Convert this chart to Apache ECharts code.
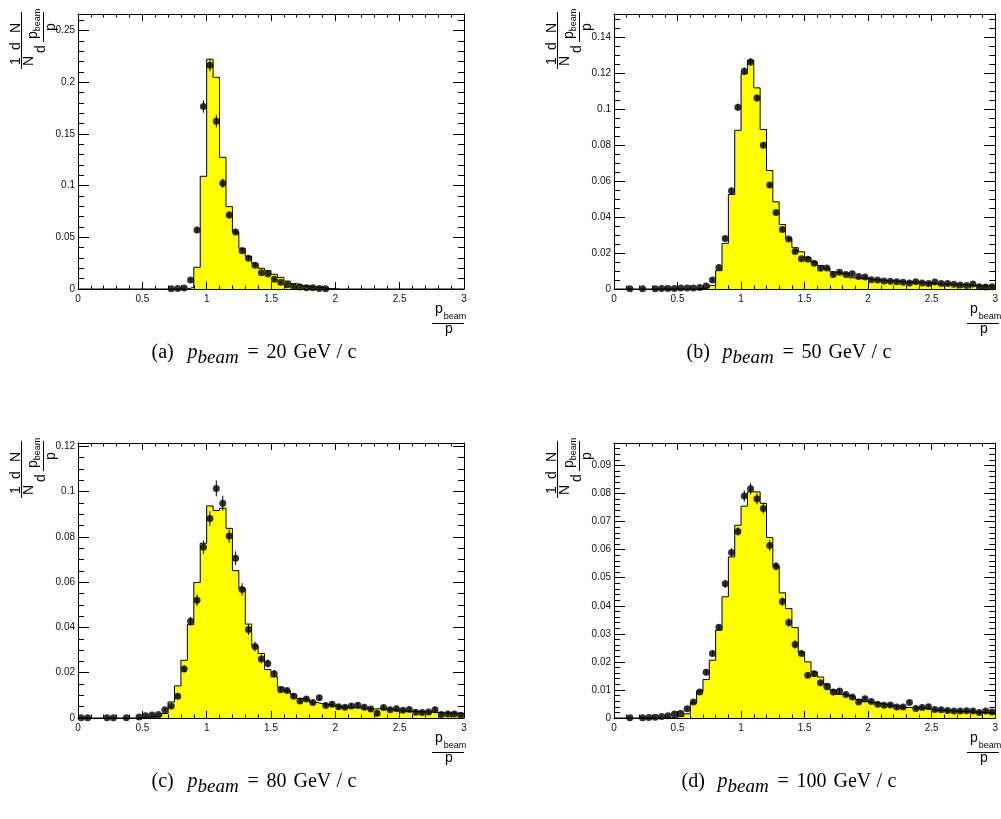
<!DOCTYPE html>
<html><head><meta charset="utf-8">
<script src="https://cdn.jsdelivr.net/npm/echarts@6/dist/echarts.min.js"></script>
<style>html,body{margin:0;padding:0;background:#fff}#c{width:1001px;height:819px}</style>
</head><body><div id="c"></div>
<script>
// ---- data ----
const binEdges = [0,0.05,0.1,0.15,0.2,0.25,0.3,0.35,0.4,0.45,0.5,0.55,0.6,0.65,0.7,0.75,0.8,0.85,0.9,0.95,
1,1.05,1.1,1.15,1.2,1.25,1.3,1.35,1.4,1.45,1.5,1.55,1.6,1.65,1.7,1.75,1.8,1.85,1.9,1.95,
2,2.05,2.1,2.15,2.2,2.25,2.3,2.35,2.4,2.45,2.5,2.55,2.6,2.65,2.7,2.75,2.8,2.85,2.9,2.95,3];
const binCenters = [0.025,0.075,0.125,0.175,0.225,0.275,0.325,0.375,0.425,0.475,0.525,0.575,0.625,0.675,0.725,0.775,0.825,0.875,0.925,0.975,
1.025,1.075,1.125,1.175,1.225,1.275,1.325,1.375,1.425,1.475,1.525,1.575,1.625,1.675,1.725,1.775,1.825,1.875,1.925,1.975,
2.025,2.075,2.125,2.175,2.225,2.275,2.325,2.375,2.425,2.475,2.525,2.575,2.625,2.675,2.725,2.775,2.825,2.875,2.925,2.975];

// (a) 20 GeV/c
const histA = [0,0,0,0,0,0,0,0,0,0,0,0,0,0,0,0,0,0.0016,0.021,0.109,
0.2223,0.2048,0.1274,0.0797,0.0548,0.0394,0.0315,0.0248,0.020,0.0177,0.0142,0.0113,0.0077,0.0052,0.0035,0.0026,0.002,0.0013,0.0006,0.0003,
0,0,0,0,0,0,0,0,0,0,0,0,0,0,0,0,0,0,0,0];
const pointsA = [null,null,null,null,null,null,null,null,null,null,null,null,null,null,0.0002,0.0004,0.001,0.0087,0.057,0.1765,
0.2165,0.1623,0.1023,0.0716,0.0552,0.0371,0.0297,0.0229,0.0158,0.0145,0.0094,0.0065,0.0042,0.0025,0.002,0.0012,0.0013,0.0006,0.0003,null,
null,null,null,null,null,null,null,null,null,null,null,null,null,null,null,null,null,null,null,null];
const errA = [null,null,null,null,null,null,null,null,null,null,null,null,null,null,0.0003,0.0003,0.0005,0.0015,0.003,0.006,
0.006,0.006,0.0045,0.0035,0.003,0.002,0.002,0.0015,0.0012,0.0012,0.001,0.0008,0.0006,0.0005,0.0005,0.0004,0.0004,0.0003,0.0003,null,
null,null,null,null,null,null,null,null,null,null,null,null,null,null,null,null,null,null,null,null];

// (b) 50 GeV/c
const histB = [0,0,0,0,0,0,0,0,0,0,0,0,0,0.0003,0.0008,0.002,0.0102,0.0254,0.0526,0.0883,
0.1198,0.1272,0.1119,0.0887,0.0659,0.0485,0.0359,0.0281,0.023,0.0207,0.0175,0.015,0.013,0.0115,0.0095,0.0087,0.0087,0.0062,0.006,0.006,
0.0052,0.005,0.0047,0.0045,0.0043,0.004,0.0038,0.0037,0.0034,0.0033,0.0029,0.0028,0.0027,0.0025,0.0024,0.0022,0.002,0.0019,0.0017,0.0016];
const pointsB = [null,null,0.0001,null,0.0002,null,0.0002,0.0003,0.0003,0.0003,0.0005,0.0005,0.0006,0.0008,0.0017,0.005,0.012,0.0281,0.0546,0.1011,
0.1211,0.1263,0.1063,0.08,0.0578,0.0426,0.0331,0.0278,0.0209,0.0168,0.0165,0.0143,0.0115,0.0117,0.0081,0.0093,0.0081,0.0085,0.0069,0.0067,
0.0052,0.005,0.0044,0.0043,0.0041,0.0037,0.0033,0.0041,0.0033,0.003,0.0039,0.0031,0.003,0.0026,0.0022,0.002,0.0028,0.0013,0.0011,0.0013];
const errB = [null,null,0.0002,null,0.0002,null,0.0002,0.0002,0.0002,0.0002,0.0002,0.0002,0.0002,0.0002,0.0003,0.0005,0.0008,0.0012,0.0016,0.002,
0.0022,0.0022,0.002,0.0018,0.0015,0.0013,0.0012,0.001,0.0009,0.0008,0.0008,0.0008,0.0008,0.0008,0.0008,0.0008,0.0006,0.0006,0.0006,0.0006,
0.0006,0.0006,0.0006,0.0006,0.0006,0.0006,0.0006,0.0006,0.0006,0.0006,0.0006,0.0006,0.0006,0.0006,0.0006,0.0006,0.0006,0.0006,0.0006,0.0006];

// (c) 80 GeV/c
const histC = [0,0,0,0,0,0,0,0,0,0,0.0004,0.0005,0.0008,0.002,0.0071,0.0142,0.0255,0.0413,0.0599,0.0772,
0.0937,0.0917,0.0927,0.0838,0.0651,0.0573,0.0415,0.0319,0.0285,0.0214,0.0182,0.0137,0.012,0.0105,0.0086,0.0081,0.007,0.0063,0.006,0.0055,
0.0048,0.0047,0.0046,0.0044,0.0042,0.004,0.0041,0.0039,0.0038,0.0036,0.003,0.0029,0.0028,0.0027,0.0026,0.0024,0.0023,0.0022,0.0021,0.002];
const pointsC = [0.0001,0.0001,null,null,0.0001,0.0001,null,0.0001,null,0.0004,0.001,0.0013,0.0016,0.0037,0.0053,0.0096,0.0217,0.0427,0.052,0.0754,
0.0881,0.1014,0.0949,0.0804,0.0706,0.0568,0.0391,0.0316,0.0261,0.0241,0.0196,0.0125,0.0121,0.0096,0.0075,0.0084,0.0068,0.0089,0.0055,0.0061,
0.005,0.0047,0.0053,0.0056,0.0047,0.004,0.0021,0.0046,0.0037,0.0041,0.0034,0.0038,0.0025,0.0024,0.0027,0.0037,0.0015,0.0018,0.0018,0.0012];
const errC = [0.0002,0.0002,null,null,0.0002,0.0002,null,0.0002,null,0.0003,0.0004,0.0004,0.0005,0.0006,0.0008,0.001,0.0015,0.002,0.0025,0.003,
0.0032,0.0035,0.0033,0.003,0.003,0.0028,0.0024,0.0022,0.002,0.0018,0.0016,0.0012,0.0012,0.0012,0.0012,0.0012,0.0012,0.0012,0.0012,0.0012,
0.0012,0.001,0.001,0.001,0.001,0.001,0.001,0.001,0.001,0.001,0.001,0.001,0.001,0.001,0.001,0.001,0.001,0.001,0.001,0.001];

// (d) 100 GeV/c
const histD = [0,0,0,0,0,0,0,0,0,0.0004,0.0006,0.0015,0.0054,0.0096,0.0137,0.0206,0.0313,0.0432,0.0574,0.0687,
0.0755,0.0806,0.0806,0.0765,0.0643,0.0541,0.0446,0.039,0.0322,0.0235,0.02,0.0164,0.0146,0.0122,0.0099,0.0084,0.0081,0.0075,0.0066,0.0058,
0.0055,0.0052,0.0048,0.0044,0.004,0.0038,0.0037,0.0036,0.0035,0.0032,0.0028,0.0027,0.0026,0.0025,0.0024,0.0022,0.0021,0.002,0.0018,0.0016];
const pointsD = [null,null,0.0001,null,0.0001,0.0002,0.0003,0.0005,0.0008,0.0014,0.0017,0.0033,0.0057,0.0093,0.0163,0.023,0.0323,0.0478,0.059,0.0665,
0.0791,0.0817,0.0781,0.0747,0.0615,0.0541,0.0415,0.034,0.0262,0.023,0.0152,0.0158,0.0126,0.0111,0.0093,0.0096,0.0084,0.0075,0.0057,0.0069,
0.0059,0.0049,0.0045,0.0046,0.0039,0.0039,0.0055,0.0034,0.0037,0.004,0.003,0.0029,0.0027,0.0025,0.0025,0.0026,0.0025,0.002,0.0025,0.0021];
const errD = [null,null,0.0002,null,0.0002,0.0002,0.0002,0.0002,0.0002,0.0002,0.0002,0.0005,0.0005,0.0005,0.001,0.001,0.001,0.0015,0.0015,0.0015,
0.002,0.002,0.002,0.002,0.002,0.0015,0.0015,0.0015,0.0015,0.001,0.001,0.001,0.001,0.001,0.001,0.001,0.0007,0.0007,0.0007,0.0007,
0.0007,0.0007,0.0007,0.0007,0.0007,0.0007,0.0007,0.0007,0.0007,0.0007,0.0007,0.0007,0.0007,0.0007,0.0007,0.0007,0.0007,0.0007,0.0007,0.0007];

const captionTags = ['(a)','(b)','(c)','(d)'];
const beamEnergies = ['20','50','80','100'];
const yMax = [0.266, 0.153, 0.1215, 0.098];
const yStep = [0.05, 0.02, 0.02, 0.01];
const yMinorSplit = [5, 4, 4, 5];

// ---- layout ----
const panels = [
  {left:78, top:14, width:386, height:275, capX:258, capY:353},
  {left:614, top:14, width:385, height:275, capX:793, capY:353},
  {left:78, top:443, width:386, height:275, capX:258, capY:782},
  {left:614, top:443, width:385, height:275, capX:793, capY:782}
];
const hists = [histA, histB, histC, histD];
const points = [pointsA, pointsB, pointsC, pointsD];
const errs = [errA, errB, errC, errD];

const SANS = '"Liberation Sans", Arial, sans-serif';
const SERIF = '"Liberation Serif", "Times New Roman", serif';

const grid = [], xAxis = [], yAxis = [], series = [], graphic = [];

function txt(t, x, y, font, rot, align) {
  const el = {type:'text', x:x, y:y, silent:true, z:100,
    style:{text:t, font:font, fill:'#000', align:align||'center', verticalAlign:'middle',
      textAlign:align||'center', textVerticalAlign:'middle'}};
  if (rot) el.rotation = rot;
  return el;
}
function ln(x1, y1, x2, y2) {
  return {type:'line', silent:true, z:100, shape:{x1:x1, y1:y1, x2:x2, y2:y2}, style:{stroke:'#000', lineWidth:1}};
}

panels.forEach((p, k) => {
  grid.push({left:p.left, top:p.top, width:p.width, height:p.height});
  const common = {type:'value', gridIndex:k, z:10, splitLine:{show:false}, minorSplitLine:{show:false},
    axisLine:{show:true, onZero:false, lineStyle:{color:'#000', width:1}}};
  xAxis.push(Object.assign({}, common, {position:'bottom', min:0, max:3, interval:0.5,
    axisTick:{show:true, inside:true, length:7, lineStyle:{color:'#000'}},
    minorTick:{show:true, splitNumber:5, length:3.5, lineStyle:{color:'#000'}},
    axisLabel:{show:true, fontSize:10, color:'#111', fontFamily:SANS, margin:5}}));
  xAxis.push(Object.assign({}, common, {position:'top', min:0, max:3, interval:0.5,
    axisTick:{show:true, inside:true, length:7, lineStyle:{color:'#000'}},
    minorTick:{show:true, splitNumber:5, length:3.5, lineStyle:{color:'#000'}},
    axisLabel:{show:false}}));
  yAxis.push(Object.assign({}, common, {position:'left', min:0, max:yMax[k], interval:yStep[k],
    axisTick:{show:true, inside:true, length:11, lineStyle:{color:'#000'}},
    minorTick:{show:true, splitNumber:yMinorSplit[k], length:6, lineStyle:{color:'#000'}},
    axisLabel:{show:true, fontSize:10, color:'#111', fontFamily:SANS, margin:3, showMaxLabel:false}}));
  yAxis.push(Object.assign({}, common, {position:'right', min:0, max:yMax[k], interval:yStep[k],
    axisTick:{show:true, inside:true, length:11, lineStyle:{color:'#000'}},
    minorTick:{show:true, splitNumber:yMinorSplit[k], length:6, lineStyle:{color:'#000'}},
    axisLabel:{show:false}}));

  const h = hists[k];
  const stepData = h.map((v, i) => [binEdges[i], v]);
  stepData.push([binEdges[h.length], h[h.length - 1]]);
  series.push({type:'line', xAxisIndex:2*k, yAxisIndex:2*k, data:stepData, step:'end', symbol:'none',
    lineStyle:{color:'#000', width:1}, areaStyle:{color:'#ffff00', opacity:1}, z:2, silent:true});

  const pts = [], ebs = [];
  points[k].forEach((v, i) => {
    if (v === null) return;
    pts.push([binCenters[i], v]);
    ebs.push([binCenters[i], v, errs[k][i] || 0]);
  });
  series.push({type:'custom', xAxisIndex:2*k, yAxisIndex:2*k, data:ebs, z:3, silent:true,
    encode:{x:0, y:1},
    renderItem:function(params, api){
      const x = api.value(0), y = api.value(1), e = api.value(2);
      const a = api.coord([x, Math.max(0, y - e)]), b = api.coord([x, y + e]);
      return {type:'line', shape:{x1:a[0], y1:a[1], x2:b[0], y2:b[1]}, style:{stroke:'#000', lineWidth:1}};
    }});
  series.push({type:'scatter', xAxisIndex:2*k, yAxisIndex:2*k, data:pts, symbol:'circle', symbolSize:7,
    itemStyle:{color:'#000'}, z:4, silent:true});

  // y-axis title: 1/N dN/d(p_beam/p), rotated
  const L = p.left, T = p.top, R = Math.PI/2;
  graphic.push(
    txt('1', L-62, T+47, '14px '+SANS, R),
    ln(L-56.5, T+40, L-56.5, T+55),
    txt('N', L-49, T+47, '14px '+SANS, R),
    txt('d', L-62, T+32, '14px '+SANS, R),
    txt('N', L-62, T+14, '14px '+SANS, R),
    ln(L-56.5, T-2, L-56.5, T+40),
    txt('d', L-37, T+35, '14px '+SANS, R),
    txt('p', L-45, T+21, '14px '+SANS, R),
    txt('beam', L-40, T+6, '9px '+SANS, R),
    ln(L-34.5, T-2, L-34.5, T+28),
    txt('p', L-27, T+13, '14px '+SANS, R)
  );
  // x-axis title: p_beam / p
  const Rx = p.left + p.width, B = p.top + p.height;
  graphic.push(
    txt('p', Rx-25, B+20, '14px '+SANS),
    txt('beam', Rx-9, B+28, '9px '+SANS),
    ln(Rx-32, B+34.5, Rx, B+34.5),
    txt('p', Rx-15, B+40, '14px '+SANS)
  );
  // caption
  const ew = beamEnergies[k].length * 10;
  const totalW = 213 + (ew - 20);
  const cl = p.capX - totalW / 2, cy = p.capY;
  const gev = 113 + ew + 7;
  graphic.push(
    txt(captionTags[k], cl, cy, '20px '+SERIF, 0, 'left'),
    txt('p', cl+36, cy, 'italic 20px '+SERIF, 0, 'left'),
    txt('beam', cl+46, cy+5, 'italic 19px '+SERIF, 0, 'left'),
    txt('=', cl+96, cy, '20px '+SERIF, 0, 'left'),
    txt(beamEnergies[k], cl+115, cy, '20px '+SERIF, 0, 'left'),
    txt('GeV', cl+gev+2, cy, '20px '+SERIF, 0, 'left'),
    txt('/', cl+gev+45, cy, '20px '+SERIF, 0, 'left'),
    txt('c', cl+gev+56, cy, '20px '+SERIF, 0, 'left')
  );
});

const chart = echarts.init(document.getElementById('c'), null, {renderer:'canvas'});
chart.setOption({animation:false, backgroundColor:'#fff', grid, xAxis, yAxis, series, graphic});
</script>
</body></html>
